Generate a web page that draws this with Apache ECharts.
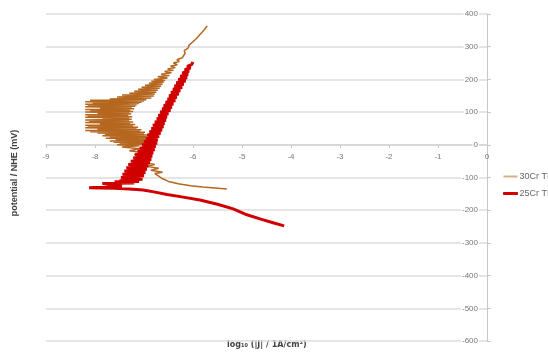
<!DOCTYPE html>
<html>
<head>
<meta charset="utf-8">
<script src="https://cdn.jsdelivr.net/npm/echarts@6/dist/echarts.min.js"></script>
<style>
  html, body { margin: 0; padding: 0; background: #fff; }
  #chart { width: 548px; height: 356px; }
</style>
</head>
<body>
<div id="chart"></div>
<script>
// Potentiodynamic polarization curves: log10 current density vs. potential (mV vs NHE)
const seriesNames = ['30Cr TI', '25Cr TI'];

// 30Cr: cathodic tail, noisy passive region, then anodic rise
const cr30LogJ = [
  -5.31, -5.55, -5.80, -6.05, -6.30, -6.50, -6.62, -6.70,
  -6.78, -6.62, -6.86, -6.70, -6.95, -6.78, -7.02, -6.86, -7.10, -6.95,
  -7.20, -7.02, -7.30, -7.08, -7.45, -7.10,
  -7.55, -6.90, -7.50, -6.82, -7.62, -6.88, -7.70, -6.80, -7.58, -6.92,
  -7.78, -6.86, -7.70, -6.95, -7.85, -6.92, -7.80, -7.00, -7.95, -6.98,
  -8.10, -7.08, -8.20, -7.05, -7.95, -7.15, -8.20, -7.12, -8.15, -7.22,
  -8.20, -7.18, -7.90, -7.28, -8.20, -7.22, -8.12, -7.30, -8.20, -7.25,
  -7.85, -7.30, -8.20, -7.24, -8.15, -7.32, -8.20, -7.26, -7.95, -7.30,
  -8.20, -7.22, -8.10, -7.28, -8.20, -7.20, -7.90, -7.25, -8.20, -7.18,
  -8.15, -7.15, -8.20, -7.10, -8.05, -7.05, -8.20, -7.00, -8.10, -6.95,
  -7.70, -6.85, -7.55, -6.80, -7.45, -6.78, -7.30, -6.75, -7.20, -6.72,
  -7.12, -6.68, -7.05, -6.65, -6.98, -6.62, -6.90, -6.60, -6.85, -6.57,
  -6.80, -6.52, -6.72, -6.48, -6.65, -6.44, -6.58, -6.40, -6.52, -6.36,
  -6.46, -6.32, -6.40, -6.28, -6.33, -6.22, -6.26, -6.16, -6.18, -6.10,
  -6.08, -6.00, -5.93, -5.84, -5.77, -5.71
];
const cr30Potential = [
  -135, -132, -129, -125, -119, -112, -104, -96,
  -88, -84, -78, -72, -66, -60, -54, -48, -42, -36,
  -30, -24, -18, -12, -7, -3,
  0, 2, 4, 6, 8, 10, 12, 14, 16, 18,
  20, 22, 24, 26, 28, 30, 32, 34, 36, 38,
  40, 42, 44, 46, 48, 50, 52, 54, 56, 58,
  60, 62, 64, 66, 68, 70, 72, 74, 76, 78,
  80, 82, 84, 86, 88, 90, 92, 94, 96, 98,
  100, 102, 104, 106, 108, 110, 112, 114, 116, 118,
  120, 122, 124, 126, 128, 130, 132, 134, 136, 138,
  140, 143, 146, 149, 152, 155, 158, 161, 164, 167,
  170, 173, 176, 179, 182, 185, 188, 191, 194, 197,
  200, 204, 208, 212, 216, 220, 224, 228, 232, 236,
  240, 245, 250, 255, 260, 266, 272, 280, 288, 296,
  305, 315, 325, 340, 352, 363
];

// 25Cr: cathodic branch, low-current steps near Ecorr, then anodic band
const cr25LogJ = [
  -4.14, -4.35, -4.60, -4.90, -5.18, -5.50, -5.86, -6.20, -6.53, -6.80,
  -7.02, -7.30, -7.60, -7.90, -8.12,
  -8.10, -7.45, -7.70, -7.85, -7.20, -7.60, -7.10,
  -7.50, -7.03, -7.47, -7.00, -7.44, -6.97, -7.40, -6.94, -7.36, -6.91,
  -7.32, -6.88, -7.27, -6.85, -7.22, -6.83, -7.18, -6.81, -7.13, -6.78,
  -7.09, -6.76, -7.04, -6.73, -7.00, -6.72, -6.96, -6.69, -6.93, -6.66,
  -6.89, -6.63, -6.85, -6.60, -6.82, -6.58, -6.78, -6.55, -6.74, -6.53,
  -6.71, -6.50, -6.67, -6.46, -6.63, -6.43, -6.60, -6.40, -6.56, -6.36,
  -6.52, -6.33, -6.49, -6.29, -6.45, -6.26, -6.41, -6.22, -6.38, -6.19,
  -6.34, -6.15, -6.30, -6.12, -6.26, -6.10, -6.22, -6.08, -6.17, -6.05,
  -6.12, -6.03, -6.06, -6.00
];
const cr25Potential = [
  -248, -239, -228, -214, -196, -182, -169, -160, -152, -144,
  -138, -135, -133, -132, -131,
  -127, -126, -122, -118, -117, -113, -112,
  -110, -105, -100, -95, -90, -85, -80, -75, -70, -65,
  -60, -55, -50, -45, -40, -35, -30, -25, -20, -15,
  -10, -5, 0, 5, 10, 15, 20, 25, 30, 35,
  40, 45, 50, 55, 60, 65, 70, 75, 80, 85,
  90, 95, 100, 105, 110, 115, 120, 125, 130, 135,
  140, 145, 150, 155, 160, 165, 170, 175, 180, 185,
  190, 195, 200, 205, 210, 215, 220, 225, 230, 235,
  240, 245, 250, 253
];

const seriesColors = ['#B5661F', '#D00000'];

function pairs(xs, ys) {
  return xs.map((x, i) => [x, ys[i]]);
}

const chart = echarts.init(document.getElementById('chart'), null, { renderer: 'canvas' });
const labelFont = 'Liberation Sans, Arial, sans-serif';

chart.setOption({
  animation: false,
  backgroundColor: '#fff',
  grid: { left: 46, right: 61, top: 14, bottom: 15 },
  legend: {
    orient: 'vertical',
    left: 498,
    top: 167,
    icon: 'rect',
    itemWidth: 14,
    itemHeight: 2,
    itemGap: 8,
    textStyle: { fontSize: 9, color: '#666', fontFamily: labelFont, padding: [0, 0, 0, -3] },
    data: [
      { name: seriesNames[0], itemStyle: { color: '#D9AE82' } },
      { name: seriesNames[1], itemStyle: { color: seriesColors[1], borderColor: seriesColors[1], borderWidth: 1 } }
    ]
  },
  xAxis: {
    type: 'value',
    position: 'bottom',
    offset: -196,
    min: -9,
    max: 0,
    interval: 1,
    axisLine: { onZero: false, lineStyle: { color: '#d4d4d4', width: 1.5 } },
    axisTick: { show: true, length: 3, lineStyle: { color: '#c8c8c8' } },
    axisLabel: { margin: 8, fontSize: 8, color: '#777', fontFamily: labelFont },
    splitLine: { show: false }
  },
  yAxis: {
    type: 'value',
    position: 'right',
    min: -600,
    max: 400,
    interval: 100,
    axisLine: { show: true, onZero: false, lineStyle: { color: '#c8c8c8', width: 1 } },
    axisTick: { show: true, length: 4, lineStyle: { color: '#c8c8c8' } },
    axisLabel: {
      inside: true,
      margin: 8,
      fontSize: 8,
      color: '#777',
      fontFamily: labelFont,
      backgroundColor: '#fff',
      padding: [0, 1]
    },
    splitLine: { show: true, lineStyle: { color: '#dcdcdc', width: 1.5 } }
  },
  graphic: [
    {
      type: 'text',
      left: 227,
      top: 341,
      style: {
        text: 'log\u2081\u2080 (|J| / 1A/cm\u00B2)',
        fontSize: 8,
        fontWeight: 'bold',
        fill: '#444',
        fontFamily: 'DejaVu Sans, Liberation Sans, sans-serif'
      }
    },
    {
      type: 'text',
      x: 15,
      y: 173,
      rotation: Math.PI / 2,
      style: {
        text: 'potential / NHE (mV)',
        fontSize: 9,
        fontWeight: 'bold',
        fill: '#444',
        fontFamily: labelFont,
        align: 'center',
        verticalAlign: 'middle'
      }
    }
  ],
  series: [
    {
      name: seriesNames[0],
      type: 'line',
      symbol: 'none',
      data: pairs(cr30LogJ, cr30Potential),
      lineStyle: { color: seriesColors[0], width: 1.5 },
      itemStyle: { color: seriesColors[0] },
      z: 2
    },
    {
      name: seriesNames[1],
      type: 'line',
      symbol: 'none',
      data: pairs(cr25LogJ, cr25Potential),
      lineStyle: { color: seriesColors[1], width: 3 },
      itemStyle: { color: seriesColors[1] },
      z: 3
    }
  ]
});
</script>
</body>
</html>
